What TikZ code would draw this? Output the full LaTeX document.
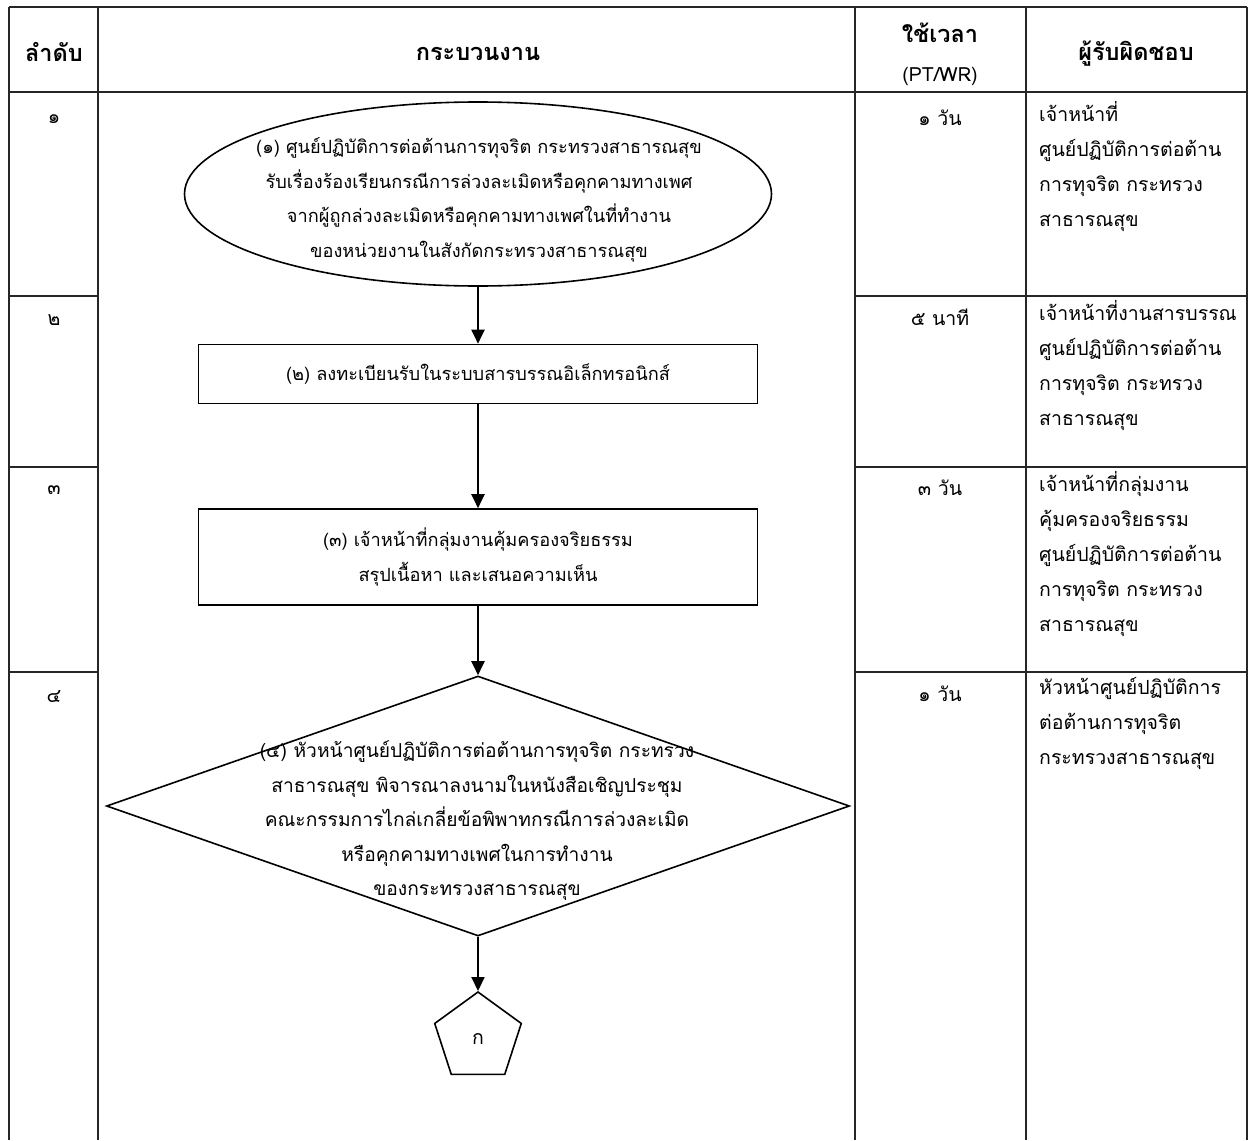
\documentclass[tikz,border=0pt]{standalone}
\usepackage{fontspec}
\setmainfont{Loma}[Script=Thai]
\usetikzlibrary{shapes.geometric,arrows.meta}
\begin{document}
\begin{tikzpicture}[x=1pt,y=-1pt,
  grid/.style={line width=1.6pt, draw=black!85},
  txt/.style={font=\fontsize{18.2}{34.5}\selectfont, inner sep=0pt, align=center},
  dtxt/.style={font=\fontsize{19.2}{34.5}\selectfont, inner sep=0pt, align=center},
  ctxt/.style={font=\fontsize{19.5}{35}\selectfont, inner sep=0pt, align=center},
  hd/.style={font=\fontsize{23.5}{38}\selectfont\bfseries, inner sep=0pt, align=center},
  resp/.style={ctxt, align=left, anchor=north west},
  flow/.style={draw=black, line width=1.6pt, inner sep=0pt},
  arr/.style={line width=2pt, -{Triangle[length=14pt,width=13pt]}},
]
\useasboundingbox (0,0) rectangle (1252,1140);
\fill[white] (0,0) rectangle (1252,1140);

% table grid
\draw[grid] (9,7) -- (1247,7);
\draw[grid] (9,92) -- (1247,92);
\foreach \x in {9,98,855,1026,1247} \draw[grid] (\x,7) -- (\x,1140);
\foreach \y in {296,467,672} {
  \draw[grid] (9,\y) -- (98,\y);
  \draw[grid] (855,\y) -- (1247,\y);
}

% header
\node[hd] (h1) at (54,52) {ลำดับ};
\node[hd] (h2) at (478,54) {กระบวนงาน};
\node[hd] (h3) at (940,33) {ใช้เวลา};
\node[ctxt, font=\fontsize{19.5}{22}\selectfont] (h3b) at (940,76) {(PT/WR)};
\node[hd] (h4) at (1136,54) {ผู้รับผิดชอบ};

% order numbers
\node[ctxt] (o1) at (54,119) {๑};
\node[ctxt] (o2) at (54,320) {๒};
\node[ctxt] (o3) at (54,490) {๓};
\node[ctxt] (o4) at (54,697) {๔};

% times
\node[ctxt] (t1) at (940,118) {๑ วัน};
\node[ctxt] (t2) at (940,317) {๕ นาที};
\node[ctxt] (t3) at (940,488) {๓ วัน};
\node[ctxt] (t4) at (940,694) {๑ วัน};

% responsible
\node[resp] (r1) at (1039,101) {เจ้าหน้าที่\\ศูนย์ปฏิบัติการต่อต้าน\\การทุจริต กระทรวง\\สาธารณสุข};
\node[resp] (r2) at (1039,300) {เจ้าหน้าที่งานสารบรรณ\\ศูนย์ปฏิบัติการต่อต้าน\\การทุจริต กระทรวง\\สาธารณสุข};
\node[resp] (r3) at (1039,471) {เจ้าหน้าที่กลุ่มงาน\\คุ้มครองจริยธรรม\\ศูนย์ปฏิบัติการต่อต้าน\\การทุจริต กระทรวง\\สาธารณสุข};
\node[resp] (r4) at (1039,677) {หัวหน้าศูนย์ปฏิบัติการ\\ต่อต้านการทุจริต\\กระทรวงสาธารณสุข};

% flow shapes
\node[flow, ellipse, minimum width=587pt, minimum height=184pt] (n1) at (478,194) {};
\node[txt] (n1t) at (479,200)
  {(๑) ศูนย์ปฏิบัติการต่อต้านการทุจริต กระทรวงสาธารณสุข\\รับเรื่องร้องเรียนกรณีการล่วงละเมิดหรือคุกคามทางเพศ\\จากผู้ถูกล่วงละเมิดหรือคุกคามทางเพศในที่ทำงาน\\ของหน่วยงานในสังกัดกระทรวงสาธารณสุข};
\node[flow, txt, rectangle, minimum width=559pt, minimum height=59pt] (n2) at (478,374)
  {(๒) ลงทะเบียนรับในระบบสารบรรณอิเล็กทรอนิกส์};
\node[flow, txt, rectangle, minimum width=559pt, minimum height=96pt] (n3) at (478,557)
  {(๓) เจ้าหน้าที่กลุ่มงานคุ้มครองจริยธรรม\\สรุปเนื้อหา และเสนอความเห็น};
\node[flow, diamond, minimum width=743pt, minimum height=260pt] (n4) at (478,806) {};
\node[dtxt] (n4t) at (477,821)
  {(๔) หัวหน้าศูนย์ปฏิบัติการต่อต้านการทุจริต กระทรวง\\สาธารณสุข พิจารณาลงนามในหนังสือเชิญประชุม\\คณะกรรมการไกล่เกลี่ยข้อพิพาทกรณีการล่วงละเมิด\\หรือคุกคามทางเพศในการทำงาน\\ของกระทรวงสาธารณสุข};
\node[flow, regular polygon, regular polygon sides=5, minimum size=91pt] (n5) at (478,1037.5) {};
\node[ctxt] (n5t) at (478,1039) {ก};

% connectors
\draw[arr] (n1.south) -- (n2.north);
\draw[arr] (n2.south) -- (n3.north);
\draw[arr] (n3.south) -- (n4.north);
\draw[arr] (n4.south) -- (n5.north);
\end{tikzpicture}
\end{document}
